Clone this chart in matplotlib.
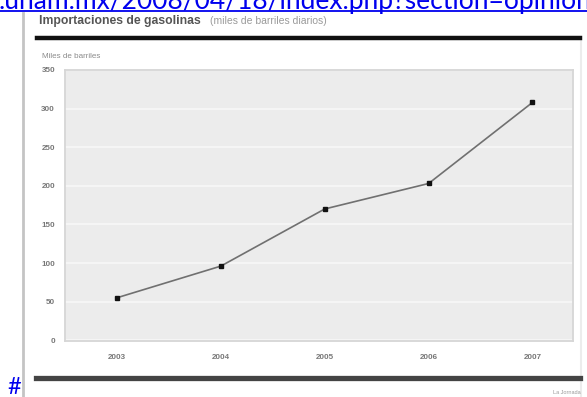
import matplotlib.pyplot as plt
from matplotlib.lines import Line2D

# Importaciones de gasolinas, miles de barriles diarios
years = ["2003", "2004", "2005", "2006", "2007"]
imports = [55, 96, 170, 203, 308]
y_ticks = [0, 50, 100, 150, 200, 250, 300, 350]

W, H = 587, 397
fig = plt.figure(figsize=(W / 100, H / 100), dpi=100)


def fx(px):
    return px / W


def fy(py):
    return 1 - py / H


# page frame and link text
fig.add_artist(Line2D([fx(23), fx(23)], [fy(13), fy(397)], color="#c4c4c4", lw=2))
fig.add_artist(Line2D([fx(581), fx(581)], [fy(40), fy(397)], color="#ececec", lw=1.5))
fig.text(fx(-1), fy(8.5), ".unam.mx/2008/04/18/index.php?section=opinion",
         color="#0000ee", fontsize=19, family="Lato", va="baseline", ha="left")
fig.add_artist(Line2D([0, 1], [fy(11), fy(11)], color="#0000ee", lw=1.3))
fig.text(fx(7), fy(394), "#", color="#0000ee", fontsize=17, family="Lato",
         va="baseline", ha="left")

# header
fig.text(fx(39), fy(21), "Importaciones de gasolinas", color="#555555",
         fontsize=8.8, fontweight="bold", family="Liberation Sans", va="center")
fig.text(fx(210), fy(21), "(miles de barriles diarios)", color="#9a9a9a",
         fontsize=7.5, family="Liberation Sans", va="center")
fig.add_artist(Line2D([fx(37), fx(580)], [fy(37.5), fy(37.5)], color="#111111", lw=3.2))

# footer
fig.add_artist(Line2D([fx(36), fx(580)], [fy(377.5), fy(377.5)], color="#444444", lw=3.8))
fig.text(fx(581), fy(392), "La Jornada", color="#9a9a9a", fontsize=4,
         family="Liberation Sans", ha="right", va="center")

fig.text(fx(42), fy(57), "Miles de barriles", color="#8a8a8a", fontsize=5.8,
         family="Liberation Sans", va="center")

ax = fig.add_axes([fx(65), fy(341), fx(573) - fx(65), fy(70) - fy(341)])
ax.set_facecolor("#ececec")
x = range(len(years))
ax.plot(x, imports, color="#707070", lw=1.2, marker="s", markersize=3,
        markerfacecolor="#111111", markeredgecolor="#111111", zorder=3)

ax.set_xlim(-0.5, 4.39)
ax.set_ylim(-1, 350)
ax.set_yticks(y_ticks)
ax.set_yticklabels([str(v) for v in y_ticks])
ax.set_xticks(list(x))
ax.set_xticklabels(years)
ax.grid(axis="y", color="#f7f7f7", lw=1.2)
ax.set_axisbelow(True)
ax.tick_params(length=0, labelsize=5.8, labelcolor="#777777")
ax.tick_params(axis="y", pad=7.2)
ax.tick_params(axis="x", pad=9.5)
for lbl in ax.get_xticklabels() + ax.get_yticklabels():
    lbl.set_fontweight("bold")
    lbl.set_family("Liberation Sans")
for side, spine in ax.spines.items():
    spine.set_color("#d6d6d6")
    spine.set_linewidth(1.3)

fig.savefig("out.png", dpi=100)
